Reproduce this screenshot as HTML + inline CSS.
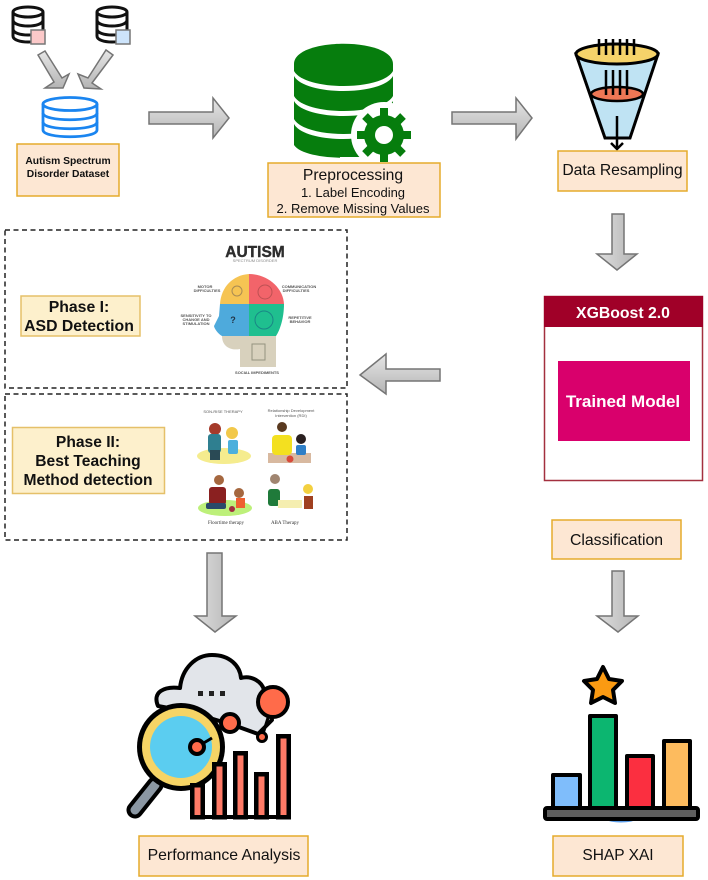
<!DOCTYPE html>
<html><head><meta charset="utf-8"><style>
html,body{margin:0;padding:0;background:#fff}
svg{display:block}
text{font-family:"Liberation Sans",sans-serif}
.box{fill:#fde7d3;stroke:#e5ab2c;stroke-width:1.5}
.ph{fill:#fdf0cc;stroke:#e5c069;stroke-width:1.5}
.ar{fill:url(#g);stroke:#757575;stroke-width:1.5}
.ard{fill:url(#gd);stroke:#757575;stroke-width:1.5}
.dash{fill:none;stroke:#222;stroke-width:1.5;stroke-dasharray:5 3.5}
.tiny{font-size:4px;font-weight:bold;fill:#555;text-anchor:middle}
.k{stroke:#000;fill:none}
</style></head><body>
<svg width="708" height="880" viewBox="0 0 708 880" xmlns="http://www.w3.org/2000/svg">
<defs>
<linearGradient id="g" x1="0" y1="0" x2="0" y2="1"><stop offset="0" stop-color="#e6e6e6"/><stop offset="1" stop-color="#b4b4b4"/></linearGradient>
<linearGradient id="gd" x1="0" y1="0" x2="1" y2="0"><stop offset="0" stop-color="#dedede"/><stop offset="1" stop-color="#b4b4b4"/></linearGradient>
<g id="db" fill="none" stroke="#111" stroke-width="3">
<path d="M1 7V31C1 39 31 39 31 31V7" fill="#fff"/>
<ellipse cx="16" cy="7" rx="15" ry="5" fill="#fff"/>
<path d="M1 15C1 23 31 23 31 15M1 24C1 32 31 32 31 24"/></g>
</defs>

<!-- top-left databases -->
<use href="#db" x="12" y="5"/>
<rect x="31" y="30" width="14" height="14" fill="#fcc9c9" stroke="#777" stroke-width="1.5"/>
<use href="#db" x="96" y="5"/>
<rect x="116" y="30" width="14" height="14" fill="#cde4fb" stroke="#777" stroke-width="1.5"/>
<polygon class="ar" points="38,55 45,51 62,78 69,74 63,88 45,88 54,82"/>
<polygon class="ar" points="113,55 106,50 88,78 78,74 84,88 101,89 92,83"/>
<g fill="#fff" stroke="#1a85f0" stroke-width="2.8">
<path d="M43 104V130C43 139 97 139 97 130V104"/>
<ellipse cx="70" cy="104" rx="27" ry="6.5"/>
<path d="M43 113C43 122 97 122 97 113M43 122C43 131 97 131 97 122" fill="none"/>
</g>
<rect class="box" x="17" y="144" width="102" height="52"/>
<text x="68" y="164" font-size="10.3" font-weight="bold" text-anchor="middle" fill="#111">Autism Spectrum</text>
<text x="68" y="177" font-size="10.3" font-weight="bold" text-anchor="middle" fill="#111">Disorder Dataset</text>

<polygon class="ar" points="149,112 213,112 213,98 229,118 213,138 213,124 149,124"/>

<!-- green database -->
<g fill="#067d0d">
<path d="M294 64C294 37 393 37 393 64V71C382 91 305 91 294 71Z"/>
<path d="M294 76C305 96 382 96 393 76V96C382 116 305 116 294 96Z"/>
<path d="M294 101C305 121 382 121 393 101V119C382 139 305 139 294 119Z"/>
<path d="M294 124C305 144 382 144 393 124V145C382 162 305 162 294 145Z"/>
</g>
<circle cx="384" cy="135" r="33" fill="#fff"/>
<rect x="340" y="157" width="60" height="6" fill="#fff"/>
<g fill="#067d0d"><circle cx="384" cy="135" r="20"/>
<g stroke="#067d0d" stroke-width="8"><path d="M384 108V162M357 135H411M365 116L403 154M403 116L365 154"/></g></g>
<circle cx="384" cy="135" r="9" fill="#fff"/>
<rect class="box" x="268" y="163" width="172" height="54"/>
<text x="353" y="180" font-size="15.7" text-anchor="middle" fill="#111">Preprocessing</text>
<text x="353" y="197" font-size="13" text-anchor="middle" fill="#111">1. Label Encoding</text>
<text x="353" y="213" font-size="13" text-anchor="middle" fill="#111">2. Remove Missing Values</text>

<polygon class="ar" points="452,112 516,112 516,98 532,118 516,139 516,124 452,124"/>

<!-- funnel -->
<path d="M576 54L605 138H630L658 54Z" fill="#bfe3f3" stroke="#000" stroke-width="3"/>
<ellipse cx="617" cy="54" rx="41" ry="10" fill="#f6d36a" stroke="#000" stroke-width="3"/>
<ellipse cx="617" cy="94" rx="26" ry="7" fill="#ee7755" stroke="#000" stroke-width="2.5"/>
<path class="k" stroke-width="2.5" d="M599 39V55M606 39V55M613 39V55M620 39V55M627 39V55M634 39V55M606 70V95M613 70V95M620 70V95M627 70V95M617 116V148M611 143L617 149L623 143"/>
<rect class="box" x="558" y="151" width="129" height="40"/>
<text x="622.5" y="175" font-size="15.7" text-anchor="middle" fill="#111">Data Resampling</text>

<polygon class="ard" points="612,214 624,214 624,254 637,254 617,270 597,254 612,254"/>

<!-- XGBoost -->
<rect x="544.5" y="296.5" width="158" height="184" fill="#fff" stroke="#a3303f" stroke-width="1.5"/>
<rect x="544" y="296" width="159" height="31" fill="#a00028"/>
<text x="623" y="318" font-size="15.8" font-weight="bold" text-anchor="middle" fill="#fff">XGBoost 2.0</text>
<rect x="558" y="361" width="132" height="80" fill="#d9006c"/>
<text x="623" y="407" font-size="17" font-weight="bold" text-anchor="middle" fill="#fff">Trained Model</text>

<polygon class="ar" points="440,369 386,369 386,354 360,375 386,394 386,381 440,381"/>

<rect class="box" x="552" y="520" width="129" height="39"/>
<text x="616.5" y="545" font-size="15.8" text-anchor="middle" fill="#111">Classification</text>
<polygon class="ard" points="612,571 624,571 624,616 638,616 618,632 597,616 612,616"/>

<!-- Phase I -->
<rect class="dash" x="5" y="230" width="342" height="158"/>
<rect class="ph" x="21" y="296" width="119" height="40"/>
<text x="79" y="312" font-size="15.8" font-weight="bold" text-anchor="middle" fill="#111">Phase I:</text>
<text x="79" y="331" font-size="15.8" font-weight="bold" text-anchor="middle" fill="#111">ASD Detection</text>
<text x="255" y="257" font-size="15.5" font-weight="bold" text-anchor="middle" fill="#2d2d2d" stroke="#2d2d2d" stroke-width=".4">AUTISM</text>
<text x="255" y="262" font-size="4" text-anchor="middle" fill="#888">SPECTRUM DISORDER</text>
<path d="M220 304C221 287 233 275 249 274V304Z" fill="#f6c453"/>
<path d="M249 274C267 274 283 287 284 304H249Z" fill="#f2646a"/>
<path d="M220 304H249V336H222C218 334 214 328 214 326L219 316Z" fill="#4eaadc"/>
<path d="M249 304H284C284 318 280 330 276 336H249Z" fill="#1fbf8f"/>
<path d="M222 336H276V367H240V349C230 351 222 346 222 336Z" fill="#d8d1bd"/>
<text x="233" y="323" font-size="9" font-weight="bold" text-anchor="middle" fill="#234">?</text>
<circle cx="264" cy="320" r="9" fill="none" stroke="#137" stroke-opacity=".4"/>
<circle cx="237" cy="291" r="5" fill="none" stroke="#765" stroke-opacity=".6"/>
<circle cx="265" cy="292" r="7" fill="none" stroke="#944" stroke-opacity=".6"/>
<rect x="252" y="344" width="13" height="16" fill="none" stroke="#776" stroke-opacity=".7"/>
<text class="tiny" x="205" y="288">MOTOR</text><text class="tiny" x="207" y="292">DIFFICULTIES</text>
<text class="tiny" x="299" y="288">COMMUNICATION</text><text class="tiny" x="296" y="292">DIFFICULTIES</text>
<text class="tiny" x="196" y="317">SENSITIVITY TO</text><text class="tiny" x="196" y="321">CHANGE AND</text><text class="tiny" x="196" y="325">STIMULATION</text>
<text class="tiny" x="300" y="319">REPETITIVE</text><text class="tiny" x="300" y="323">BEHAVIOR</text>
<text class="tiny" x="257" y="374">SOCIAL IMPEDIMENTS</text>

<!-- Phase II -->
<rect class="dash" x="5" y="394" width="342" height="146"/>
<rect class="ph" x="12.5" y="427.5" width="152" height="66"/>
<text x="88" y="447" font-size="15.6" font-weight="bold" text-anchor="middle" fill="#111">Phase II:</text>
<text x="88" y="466" font-size="15.6" font-weight="bold" text-anchor="middle" fill="#111">Best Teaching</text>
<text x="88" y="485" font-size="15.6" font-weight="bold" text-anchor="middle" fill="#111">Method detection</text>
<text class="tiny" x="223" y="413" style="font-weight:normal">SON-RISE THERAPY</text>
<text class="tiny" x="291" y="412" style="font-weight:normal">Relationship Development</text>
<text class="tiny" x="291" y="417" style="font-weight:normal">Intervention (RDI)</text>
<ellipse cx="224" cy="456" rx="27" ry="8" fill="#f5ec8e"/>
<circle cx="215" cy="429" r="6" fill="#a53a2a"/><rect x="208" y="434" width="13" height="19" rx="3" fill="#2f7f90"/><rect x="210" y="450" width="10" height="10" fill="#2a4a55"/>
<circle cx="232" cy="433" r="6" fill="#f2c84a"/><rect x="228" y="440" width="10" height="14" rx="2" fill="#4cb0dc"/>
<rect x="268" y="453" width="43" height="10" fill="#d8b9a0"/>
<circle cx="282" cy="427" r="5" fill="#5a3a20"/><rect x="272" y="435" width="20" height="20" rx="4" fill="#f3e020"/>
<circle cx="301" cy="439" r="5" fill="#2a2020"/><rect x="296" y="445" width="10" height="10" rx="2" fill="#2f80c8"/>
<circle cx="290" cy="459" r="3.5" fill="#d84a3a"/>
<ellipse cx="225" cy="508" rx="27" ry="8" fill="#bdf07a"/>
<circle cx="219" cy="480" r="5" fill="#a5673f"/><rect x="209" y="487" width="17" height="18" rx="3" fill="#8a2020"/><rect x="206" y="503" width="20" height="6" rx="2" fill="#2a4a6a"/>
<circle cx="239" cy="493" r="5" fill="#a5673f"/><rect x="236" y="498" width="9" height="10" fill="#ee6030"/><circle cx="232" cy="509" r="3" fill="#a03040"/>
<circle cx="275" cy="479" r="5" fill="#a08570"/><rect x="268" y="489" width="12" height="17" rx="3" fill="#1f7a3a"/>
<rect x="278" y="500" width="24" height="8" fill="#f5eeb0"/>
<circle cx="308" cy="489" r="5" fill="#f3d040"/><rect x="304" y="496" width="9" height="13" fill="#a04020"/>
<text x="226" y="524" font-size="5" text-anchor="middle" fill="#333" style="font-family:'Liberation Serif',serif">Floortime therapy</text>
<text x="285" y="524" font-size="5" text-anchor="middle" fill="#333" style="font-family:'Liberation Serif',serif">ABA Therapy</text>

<polygon class="ard" points="207,553 222,553 222,616 236,616 215,632 195,616 207,616"/>

<!-- performance icon -->
<path d="M158 706C152 692 164 686 180 688C182 668 196 655 212 655C230 655 240 666 241 678C252 675 262 682 264 690L272 720L258 734L236 726L190 712Z" fill="#e2e5ea" stroke="#000" stroke-width="4" stroke-linejoin="round"/>
<rect x="198" y="691" width="5" height="5" fill="#222"/><rect x="209" y="691" width="5" height="5" fill="#222"/><rect x="220" y="691" width="5" height="5" fill="#222"/>
<path d="M155 785L135 810" stroke="#000" stroke-width="17" stroke-linecap="round"/>
<path d="M155 785L135 810" stroke="#8b97a3" stroke-width="9" stroke-linecap="round"/>
<circle cx="181" cy="747" r="44" fill="#000"/>
<circle cx="181" cy="747" r="39" fill="#f6d465"/>
<circle cx="181" cy="747" r="31" fill="#5bcdf0"/>
<path d="M262 737L273 702" stroke="#000" stroke-width="3"/>
<path d="M197 747L212 738" stroke="#000" stroke-width="3"/>
<circle cx="197" cy="747" r="7" fill="#ff6b4a" stroke="#000" stroke-width="4"/>
<circle cx="230" cy="723" r="9" fill="#ff6b4a" stroke="#000" stroke-width="4"/>
<circle cx="262" cy="737" r="4.5" fill="#ff6b4a" stroke="#000" stroke-width="3"/>
<circle cx="273" cy="702" r="15" fill="#ff6b4a" stroke="#000" stroke-width="4"/>
<g fill="#ff7a66" stroke="#000" stroke-width="4.5">
<rect x="192.25" y="785.25" width="10.5" height="32"/><rect x="214.25" y="764.25" width="10.5" height="53"/><rect x="235.25" y="753.25" width="10.5" height="64"/><rect x="256.25" y="774.25" width="10.5" height="43"/><rect x="278.25" y="736.25" width="10.5" height="81"/>
</g>
<rect x="190" y="815" width="101" height="4" fill="#000"/>
<rect x="139" y="836" width="169" height="40" class="box"/>
<text x="224" y="860" font-size="15.8" text-anchor="middle" fill="#111">Performance Analysis</text>

<!-- SHAP icon -->
<polygon points="603,667 609,679 622,681 613,690 615,703 603,697 591,703 593,690 584,681 597,679" fill="#fb9a12" stroke="#000" stroke-width="4" stroke-linejoin="round"/>
<ellipse cx="621" cy="820" rx="13" ry="2.5" fill="#5a9ce8"/>
<g stroke="#000" stroke-width="4" stroke-linejoin="round">
<rect x="553" y="775" width="27" height="33" fill="#7fbdfb"/>
<rect x="590" y="716" width="26" height="92" fill="#0cb670"/>
<rect x="627" y="756" width="26" height="52" fill="#fb2f40"/>
<rect x="664" y="741" width="26" height="67" fill="#fdbb5e"/>
<rect x="545" y="808" width="153" height="11" fill="#5e5e5e" rx="2"/>
</g>
<rect x="553" y="836" width="130" height="40" class="box"/>
<text x="618" y="860" font-size="15.5" text-anchor="middle" fill="#111">SHAP XAI</text>
</svg>
</body></html>
